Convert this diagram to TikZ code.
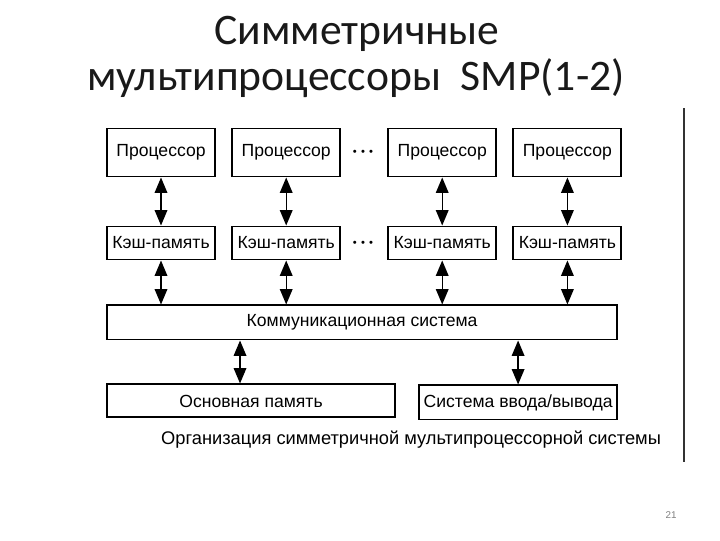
\documentclass[tikz,border=0pt]{standalone}
\usepackage{fontspec}
\setmainfont{Liberation Sans}
\newfontfamily\titlefont{Carlito}
\usetikzlibrary{arrows.meta, positioning}

\begin{document}
\begin{tikzpicture}[
				x=0.025cm, y=-0.025cm,
				node distance=1.2cm and 0.38cm,
				every node/.style={font=\fontsize{12.5}{14}\selectfont},
				cpu/.style={rectangle, draw, line width=1.4pt, minimum width=2.7cm, minimum height=1.2cm, inner sep=0pt, align=center},
				cache/.style={rectangle, draw, line width=1.4pt, minimum width=2.7cm, minimum height=0.825cm, inner sep=0pt, align=center},
				bus/.style={rectangle, draw, line width=1.4pt, minimum width=12.75cm, minimum height=0.85cm, inner sep=0pt},
				memory/.style={rectangle, draw, line width=1.4pt, minimum height=0.825cm, inner sep=0pt},
				dots/.style={font=\fontsize{8}{9}\selectfont, inner sep=0pt},
				title/.style={font=\titlefont\fontsize{31}{36}\selectfont, text=black!90},
				arrow/.style={line width=1pt, {Triangle[length=11pt,width=9pt]}-{Triangle[length=11pt,width=9pt]}}
				]
				\useasboundingbox (0,0) rectangle (720,540);
				% Title
				\node (title1) [title] at (357,34) {Симметричные};
				\node (title2) [title] at (356,78) {мультипроцессоры\ \ SMP(1-2)};
				
				% Nodes
				\node (cpu1) [cpu] at (161,152.5) {Процессор};
				\node (cpu2) [cpu, right=of cpu1] {Процессор};
				\node (cpu3) [cpu, right=1.15cm of cpu2] {Процессор};
				\node (cpu4) [cpu, right=of cpu3] {Процессор};
				\node (cache1) [cache, below=of cpu1] {Кэш-память};
				\node (cache2) [cache, below=of cpu2] {Кэш-память};
				\node (cache3) [cache, below=of cpu3] {Кэш-память};
				\node (cache4) [cache, below=of cpu4] {Кэш-память};
				\node (dots1) [dots] at (363,153) {\textbullet\hspace{3pt}\textbullet\hspace{3pt}\textbullet};
				\node (dots2) [dots] at (363,244) {\textbullet\hspace{3pt}\textbullet\hspace{3pt}\textbullet};
				\node (comm) [bus, below=1.1cm of cache1.south west, anchor=north west] {Коммуникационная система};
				\node (mem) [memory, minimum width=7.2cm, below=1.075cm of comm.south west, anchor=north west] {Основная память};
				\node (io) [memory, minimum width=4.95cm, minimum height=0.85cm, below=1.1cm of comm.south east, anchor=north east] {Система ввода/вывода};
				\node (caption) [font=\fontsize{13}{15}\selectfont] at (411,440) {Организация симметричной мультипроцессорной системы};
				
				% Arrows
				\foreach \i in {1,...,4} {
					\draw [arrow] (cpu\i) -- (cache\i);
					\draw [arrow] (cache\i) -- (cache\i |- comm.north);
				}
				\draw [arrow] ([xshift=-0.275cm]mem.north |- comm.south) -- ([xshift=-0.275cm]mem.north);
				\draw [arrow] (io.north |- comm.south) -- (io);
				
				% Frame line and page number
				\draw [line width=1.2pt, black!80] (684,108) -- (684,462);
				\node (pagenum) [text=black!50, font=\fontsize{7}{8}\selectfont] at (671,515) {21};
			\end{tikzpicture}
\end{document}
